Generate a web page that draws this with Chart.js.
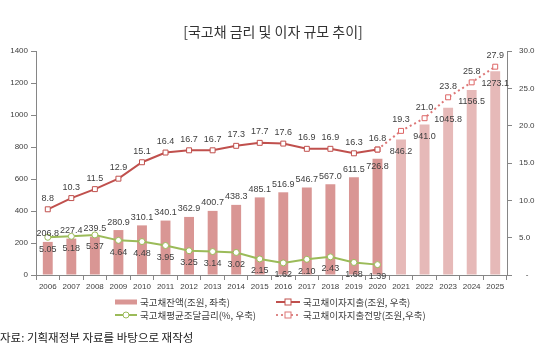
<!DOCTYPE html>
<html><head><meta charset="utf-8">
<script src="https://cdn.jsdelivr.net/npm/chart.js@4"></script>
<style>html,body{margin:0;padding:0;background:#fff;}#wrap{width:550px;height:356px;position:relative;}</style>
</head><body><div id="wrap"><canvas id="c" width="550" height="356"></canvas></div>
<script>
const years = ['2006','2007','2008','2009','2010','2011','2012','2013','2014','2015','2016','2017','2018','2019','2020','2021','2022','2023','2024','2025'];
const balance = [206.8,227.4,239.5,280.9,310.1,340.1,362.9,400.7,438.3,485.1,516.9,546.7,567.0,611.5,726.8,846.2,941.0,1045.8,1156.5,1273.1];
const interest = [8.8,10.3,11.5,12.9,15.1,16.4,16.7,16.7,17.3,17.7,17.6,16.9,16.9,16.3,16.8,null,null,null,null,null];
const interestForecast = [null,null,null,null,null,null,null,null,null,null,null,null,null,null,16.8,19.3,21.0,23.8,25.8,27.9];
const avgRate = [5.05,5.18,5.37,4.64,4.48,3.95,3.25,3.14,3.02,2.15,1.62,2.10,2.43,1.68,1.39,null,null,null,null,null];
const forecastStart = 15;
const titleText = '[국고채 금리 및 이자 규모 추이]';
const sourceText = '자료: 기획재정부 자료를 바탕으로 재작성';
const legendNames = ['국고채잔액(조원, 좌축)','국고채이자지출(조원, 우축)','국고채평균조달금리(%, 우축)','국고채이자지출전망(조원,우축)'];

const RED='#c0504d', GREEN='#9bbb59', BAR='#d99694', BAR2='#e6b9b8', TXT='#404040', AX='#868686';
const KFONT = '"Noto Sans CJK KR", sans-serif';
const NFONT = '"Liberation Sans", Arial, sans-serif';

const fmt = (v, d) => v.toFixed(d);

const extras = {
  id: 'extras',
  afterDatasetsDraw(chart) {
    const ctx = chart.ctx;
    ctx.save();
    ctx.font = '9px ' + NFONT;
    ctx.fillStyle = TXT;
    ctx.textAlign = 'center';
    ctx.textBaseline = 'middle';
    chart.getDatasetMeta(0).data.forEach((el, i) => {
      const v = balance[i];
      const off = i >= forecastStart ? 12 : (i === forecastStart - 1 ? 8 : -8);
      ctx.fillText(fmt(v, 1), el.x, el.y + off);
    });
    chart.getDatasetMeta(1).data.forEach((el, i) => {
      if (interest[i] == null) return;
      ctx.fillText(fmt(interest[i], 1), el.x, el.y - 11);
    });
    chart.getDatasetMeta(2).data.forEach((el, i) => {
      if (interestForecast[i] == null || i < forecastStart) return;
      ctx.fillText(fmt(interestForecast[i], 1), el.x, el.y - 11);
    });
    chart.getDatasetMeta(3).data.forEach((el, i) => {
      if (avgRate[i] == null) return;
      ctx.fillText(fmt(avgRate[i], 2), el.x, el.y + 12);
    });
    ctx.restore();
  },
  afterDraw(chart) {
    const ctx = chart.ctx;
    ctx.save();
    ctx.fillStyle = '#333';
    ctx.font = '14px ' + KFONT;
    ctx.textAlign = 'center';
    ctx.textBaseline = 'middle';
    ctx.fillText(titleText, 273, 32);
    ctx.fillStyle = '#222';
    ctx.font = '11.5px ' + KFONT;
    ctx.textAlign = 'left';
    ctx.fillText(sourceText, 0, 338);
    ctx.font = '9.5px ' + KFONT;
    const rows = [302, 315];
    const cols = [[115,137,140],[276,300,303]];
    ctx.fillStyle = BAR;
    ctx.fillRect(cols[0][0], rows[0]-2.5, cols[0][1]-cols[0][0], 5);
    const drawLine = (x0,x1,y,color,dash) => {
      ctx.strokeStyle = color; ctx.lineWidth = 2; ctx.setLineDash(dash||[]);
      ctx.beginPath(); ctx.moveTo(x0,y); ctx.lineTo(x1,y); ctx.stroke(); ctx.setLineDash([]);
    };
    const sq = (x,y,color) => { ctx.fillStyle='#fff'; ctx.fillRect(x-3,y-3,6,6); ctx.strokeStyle=color; ctx.lineWidth=1; ctx.strokeRect(x-3,y-3,6,6); };
    const circ = (x,y,color) => { ctx.fillStyle='#fff'; ctx.beginPath(); ctx.arc(x,y,3,0,Math.PI*2); ctx.fill(); ctx.strokeStyle=color; ctx.lineWidth=1; ctx.stroke(); };
    drawLine(cols[1][0], cols[1][1], rows[0], RED);
    sq((cols[1][0]+cols[1][1])/2, rows[0], RED);
    drawLine(cols[0][0], cols[0][1], rows[1], GREEN);
    circ((cols[0][0]+cols[0][1])/2, rows[1], GREEN);
    drawLine(cols[1][0], cols[1][1], rows[1], '#d88', [2,3]);
    sq((cols[1][0]+cols[1][1])/2, rows[1], '#d77');
    ctx.fillStyle = TXT;
    ctx.textBaseline = 'middle';
    ctx.textAlign = 'left';
    ctx.fillText(legendNames[0], cols[0][2], rows[0]);
    ctx.fillText(legendNames[1], cols[1][2], rows[0]);
    ctx.fillText(legendNames[2], cols[0][2], rows[1]);
    ctx.fillText(legendNames[3], cols[1][2], rows[1]);
    ctx.restore();
  }
};

new Chart(document.getElementById('c'), {
  data: {
    labels: years,
    datasets: [
      { type: 'bar', label: legendNames[0], data: balance, yAxisID: 'y',
        backgroundColor: balance.map((v,i) => i >= forecastStart ? BAR2 : BAR),
        categoryPercentage: 1, barPercentage: 0.42, order: 4 },
      { type: 'line', label: legendNames[1], data: interest, yAxisID: 'y1',
        borderColor: RED, borderWidth: 2, pointStyle: 'rect', pointRadius: 3.5,
        pointBackgroundColor: '#fff', pointBorderColor: RED, pointBorderWidth: 1, spanGaps: false, order: 1 },
      { type: 'line', label: legendNames[3], data: interestForecast, yAxisID: 'y1',
        borderColor: '#d77', borderWidth: 2, borderDash: [2,3], pointStyle: 'rect', pointRadius: 3.5,
        pointBackgroundColor: '#fff', pointBorderColor: '#d66', pointBorderWidth: 1, order: 2 },
      { type: 'line', label: legendNames[2], data: avgRate, yAxisID: 'y1',
        borderColor: GREEN, borderWidth: 2, pointStyle: 'circle', pointRadius: 3,
        pointBackgroundColor: '#fff', pointBorderColor: GREEN, pointBorderWidth: 1, order: 3 }
    ]
  },
  options: {
    responsive: false, animation: false,
    layout: { padding: { top: 51, bottom: 61, left: 0, right: 0 } },
    plugins: { legend: { display: false }, tooltip: { enabled: false }, title: { display: false } },
    scales: {
      x: {
        grid: { drawOnChartArea: false, color: AX, tickLength: 5, offset: true },
        border: { color: AX },
        ticks: { color: TXT, font: { size: 8, family: NFONT }, padding: 2, maxRotation: 0, autoSkip: false },
        afterFit(s) { s.height = 20; }
      },
      y: {
        position: 'left', min: 0, max: 1400,
        grid: { drawOnChartArea: false, color: AX, tickLength: 5 },
        border: { color: AX },
        ticks: { stepSize: 200, color: TXT, font: { size: 8, family: NFONT }, padding: 3,
          callback: v => String(v) },
        afterFit(s) { s.width = 36; }
      },
      y1: {
        position: 'right', min: 0, max: 30,
        grid: { drawOnChartArea: false, color: AX, tickLength: 5 },
        border: { color: AX },
        ticks: { stepSize: 5, color: TXT, font: { size: 8, family: NFONT }, padding: 7,
          callback: v => v === 0 ? '   -' : Number(v).toFixed(1) },
        afterFit(s) { s.width = 43; }
      }
    }
  },
  plugins: [extras]
});
</script></body></html>
